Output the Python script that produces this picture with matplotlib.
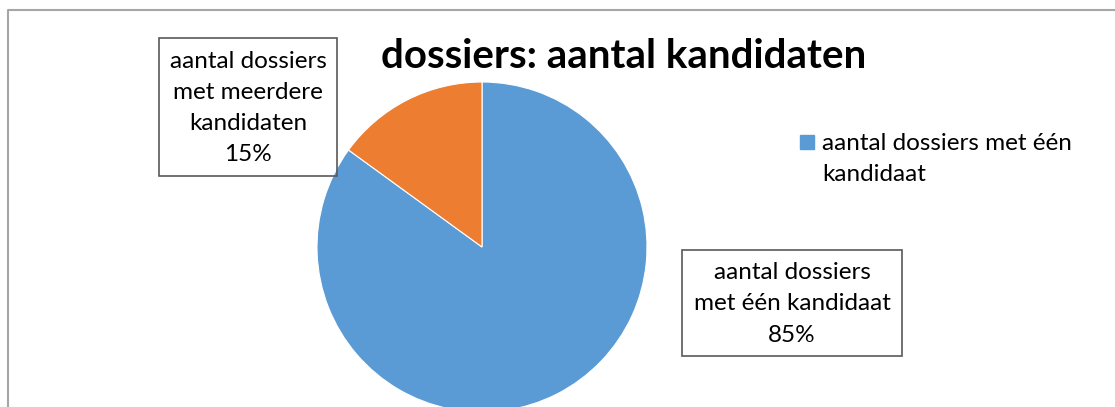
import matplotlib.pyplot as plt
from matplotlib.patches import Rectangle

# data
labels = ["aantal dossiers met één kandidaat", "aantal dossiers met meerdere kandidaten"]
values = [85, 15]
colors = ["#5B9BD5", "#ED7D31"]
pct_labels = ["aantal dossiers\nmet één kandidaat\n85%",
              "aantal dossiers\nmet meerdere\nkandidaten\n15%"]
title = "dossiers: aantal kandidaten"

plt.rcParams['font.family'] = ['Lato', 'DejaVu Sans']

W, H = 1115, 407
fig = plt.figure(figsize=(W / 100, H / 100), dpi=100)
ax = fig.add_axes([0, 0, 1, 1])

# pie in pixel coordinates (y measured from bottom)
wedges, _ = ax.pie(values, colors=colors, startangle=90, counterclock=False,
                   center=(482, H - 247), radius=165,
                   wedgeprops=dict(edgecolor='white', linewidth=0.8))

ax.set_xlim(0, W)
ax.set_ylim(0, H)
ax.set_aspect('equal')
ax.axis('off')

# chart border (gray, top and left visible)
ax.plot([8, 8, W], [0, H - 10, H - 10], color='#A6A6A6', lw=1.5, clip_on=False)

ax.text(624, H - 57, title, ha='center', va='center', fontsize=29,
        fontweight='bold', color='black')

# data labels with boxes
ax.add_patch(Rectangle((682, H - 356), 220, 106, fill=False, edgecolor='#595959', lw=1.2))
ax.text(792, H - 304, pct_labels[0], ha='center', va='center', fontsize=17.5,
        linespacing=1.6, color='black')
ax.add_patch(Rectangle((159, H - 176), 178, 138, fill=False, edgecolor='#595959', lw=1.2))
ax.text(248, H - 108, pct_labels[1], ha='center', va='center', fontsize=17.5,
        linespacing=1.6, color='black')

# legend (only first entry visible)
ax.add_patch(Rectangle((800, H - 149), 14, 14, color=colors[0]))
ax.text(822, H - 159, "aantal dossiers met één\nkandidaat", ha='left', va='center',
        fontsize=17.5, linespacing=1.6, color='black')

fig.savefig("out.png", dpi=100)
